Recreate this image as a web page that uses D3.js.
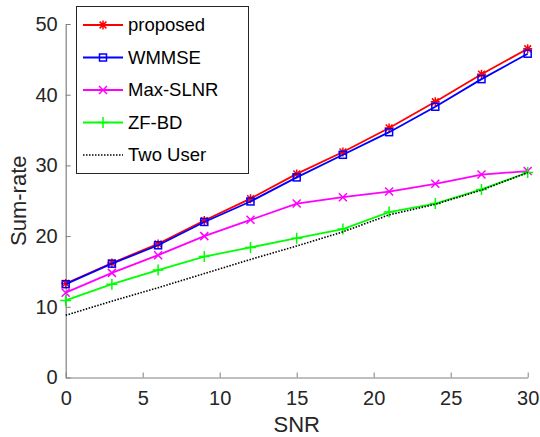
<!DOCTYPE html>
<html><head><meta charset="utf-8">
<script src="https://cdn.jsdelivr.net/npm/d3@7"></script>
<style>body{margin:0;background:#fff}svg{display:block}text{font-family:"Liberation Sans",Arial,sans-serif}</style>
</head><body><svg id="c" width="540" height="437"></svg>
<script>
const snr = [0,3,6,9,12,15,18,21,24,27,30];
const proposed = [13.3,16.2,18.9,22.2,25.3,28.8,31.9,35.3,39.0,42.9,46.5];
const wmmse    = [13.2,16.1,18.7,22.0,24.9,28.3,31.5,34.7,38.3,42.2,45.8];
const maxslnr  = [12.0,14.8,17.3,20.0,22.3,24.6,25.5,26.3,27.4,28.7,29.2];
const zfbd     = [10.9,13.2,15.2,17.1,18.4,19.7,21.0,23.4,24.6,26.6,29.0];
const twouser  = [8.8,10.8,12.7,14.7,16.7,18.6,20.6,23.0,24.5,26.5,29.0];
const xTicks = [0,5,10,15,20,25,30];
const yTicks = [0,10,20,30,40,50];
const seriesNames = ["proposed","WMMSE","Max-SLNR","ZF-BD","Two User"];

const series = [
  {name:seriesNames[0], vals:proposed, color:"#ff0000", marker:"star", dash:null},
  {name:seriesNames[1], vals:wmmse, color:"#0000ff", marker:"square", dash:null},
  {name:seriesNames[2], vals:maxslnr, color:"#ff00ff", marker:"x", dash:null},
  {name:seriesNames[3], vals:zfbd, color:"#00ff00", marker:"plus", dash:null},
  {name:seriesNames[4], vals:twouser, color:"#000000", marker:null, dash:"1.5,1.5"}
];

const svg = d3.select("#c");
const x = d3.scaleLinear().domain([0,30]).range([65.7,527.7]);
const y = d3.scaleLinear().domain([0,50]).range([377.5,24]);
const axisColor = "#808080", textColor = "#262626";

const gx = svg.append("g").attr("transform",`translate(0,${y(0)})`)
  .call(d3.axisBottom(x).tickValues(xTicks).tickSizeInner(-5).tickSizeOuter(0).tickPadding(13));
const gy = svg.append("g").attr("transform",`translate(${x(0)},0)`)
  .call(d3.axisLeft(y).tickValues(yTicks).tickSizeInner(-5).tickSizeOuter(0).tickPadding(8));
[gx,gy].forEach(g=>{
  g.select(".domain").attr("stroke",axisColor).attr("stroke-width",1.2);
  g.selectAll(".tick line").attr("stroke",axisColor).attr("stroke-width",1);
  g.selectAll(".tick text").attr("fill",textColor).style("font-size","20px").style("font-family",'"Liberation Sans",Arial,sans-serif');
});
gx.selectAll(".tick text").attr("dy","0.71em");

svg.append("text").attr("x",(x(0)+x(30))/2).attr("y",432).attr("text-anchor","middle")
  .attr("fill",textColor).style("font-size","22px").text("SNR");
svg.append("text").attr("transform",`translate(26,${(y(0)+y(50))/2}) rotate(-90)`).attr("text-anchor","middle")
  .attr("fill",textColor).style("font-size","22px").text("Sum-rate");

function drawMarker(g, type, cx, cy, color){
  const s = 4.5;
  if(type==="star"){
    g.append("path").attr("d",`M${cx-s},${cy}H${cx+s}M${cx},${cy-s}V${cy+s}M${cx-s*0.75},${cy-s*0.75}L${cx+s*0.75},${cy+s*0.75}M${cx-s*0.75},${cy+s*0.75}L${cx+s*0.75},${cy-s*0.75}`)
      .attr("stroke",color).attr("stroke-width",1.5).attr("fill","none");
  } else if(type==="square"){
    g.append("rect").attr("x",cx-3.5).attr("y",cy-3.5).attr("width",7).attr("height",7)
      .attr("stroke",color).attr("stroke-width",1.5).attr("fill","none");
  } else if(type==="x"){
    const t=4;
    g.append("path").attr("d",`M${cx-t},${cy-t}L${cx+t},${cy+t}M${cx-t},${cy+t}L${cx+t},${cy-t}`)
      .attr("stroke",color).attr("stroke-width",1.5).attr("fill","none");
  } else if(type==="plus"){
    const t=5.5;
    g.append("path").attr("d",`M${cx-t},${cy}H${cx+t}M${cx},${cy-t}V${cy+t}`)
      .attr("stroke",color).attr("stroke-width",1.5).attr("fill","none");
  }
}

const line = d3.line().x((d,i)=>x(snr[i])).y(d=>y(d));
series.forEach(s=>{
  const g = svg.append("g");
  g.append("path").attr("d",line(s.vals)).attr("fill","none").attr("stroke",s.color)
    .attr("stroke-width",s.marker?1.8:1.6).attr("stroke-dasharray",s.dash);
  if(s.marker) s.vals.forEach((v,i)=>drawMarker(g,s.marker,x(snr[i]),y(v),s.color));
});

const lg = svg.append("g");
lg.append("rect").attr("x",76.5).attr("y",6.5).attr("width",172).attr("height",167)
  .attr("fill","#fff").attr("stroke","#262626").attr("stroke-width",1);
series.forEach((s,i)=>{
  const ly = 25 + i*32.5;
  lg.append("line").attr("x1",83).attr("x2",123).attr("y1",ly).attr("y2",ly)
    .attr("stroke",s.color).attr("stroke-width",s.marker?1.8:1.6).attr("stroke-dasharray",s.dash);
  if(s.marker) drawMarker(lg,s.marker,103,ly,s.color);
  lg.append("text").attr("x",128).attr("y",ly).attr("dy","0.35em").attr("fill","#000")
    .style("font-size","18.5px").text(s.name);
});
</script></body></html>
